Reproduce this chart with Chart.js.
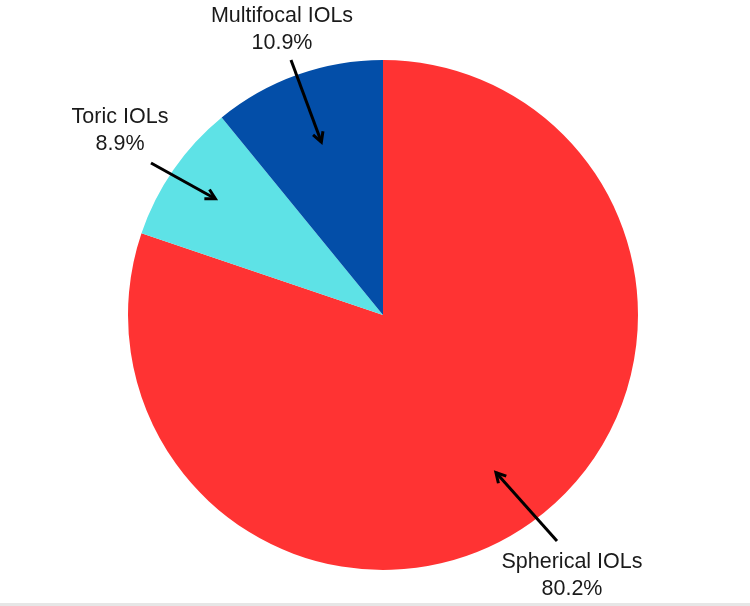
<!DOCTYPE html>
<html>
<head>
<meta charset="utf-8">
<script src="https://cdn.jsdelivr.net/npm/chart.js@4.4.0/dist/chart.umd.min.js"></script>
<style>
  html, body { margin: 0; padding: 0; background: #fff; }
  #wrap { width: 750px; height: 603px; border-bottom: 3px solid #e6e6e6; }
</style>
</head>
<body>
<div id="wrap"><canvas id="pieChart" width="750" height="603"></canvas></div>
<script>
const categories = ["Spherical IOLs", "Toric IOLs", "Multifocal IOLs"];
const shares = [80.2, 8.9, 10.9];
const colors = ["#ff3333", "#5ee2e6", "#034ea8"];

// label placement (text centre) and arrow tail, per slice
const labelPos = [
  { x: 572, y: 562, tailX: 557, tailY: 541, tipR: 0.76 },
  { x: 120, y: 117, tailX: 151, tailY: 163, tipR: 0.8 },
  { x: 282, y: 16, tailX: 291, tailY: 60, tipR: 0.72 },
];

const calloutPlugin = {
  id: "callouts",
  afterDraw(chart) {
    const ctx = chart.ctx;
    const meta = chart.getDatasetMeta(0);
    ctx.save();
    meta.data.forEach((arc, i) => {
      const p = labelPos[i];
      const mid = (arc.startAngle + arc.endAngle) / 2;
      const r = arc.outerRadius * p.tipR;
      const tipX = arc.x + Math.cos(mid) * r;
      const tipY = arc.y + Math.sin(mid) * r;

      // arrow line
      ctx.strokeStyle = "#000";
      ctx.lineWidth = 3;
      ctx.lineCap = "butt";
      ctx.beginPath();
      ctx.moveTo(p.tailX, p.tailY);
      ctx.lineTo(tipX, tipY);
      ctx.stroke();

      // arrow head
      const a = Math.atan2(tipY - p.tailY, tipX - p.tailX);
      const hl = 11;
      ctx.beginPath();
      ctx.moveTo(tipX - hl * Math.cos(a - 0.5), tipY - hl * Math.sin(a - 0.5));
      ctx.lineTo(tipX, tipY);
      ctx.lineTo(tipX - hl * Math.cos(a + 0.5), tipY - hl * Math.sin(a + 0.5));
      ctx.stroke();

      // text
      ctx.fillStyle = "#1a1a1a";
      ctx.font = "21.5px 'Liberation Sans', Arial, sans-serif";
      ctx.textAlign = "center";
      ctx.textBaseline = "middle";
      ctx.fillText(categories[i], p.x, p.y);
      ctx.fillText(shares[i].toFixed(1) + "%", p.x, p.y + 27);
    });
    ctx.restore();
  },
};

const ctx = document.getElementById("pieChart").getContext("2d");
new Chart(ctx, {
  type: "pie",
  data: {
    labels: categories,
    datasets: [
      {
        data: shares,
        backgroundColor: colors,
        borderWidth: 0,
      },
    ],
  },
  options: {
    responsive: false,
    animation: false,
    layout: {
      padding: { left: 128, right: 112, top: 60, bottom: 33 },
    },
    plugins: {
      legend: { display: false },
      tooltip: { enabled: false },
    },
  },
  plugins: [calloutPlugin],
});
</script>
</body>
</html>
